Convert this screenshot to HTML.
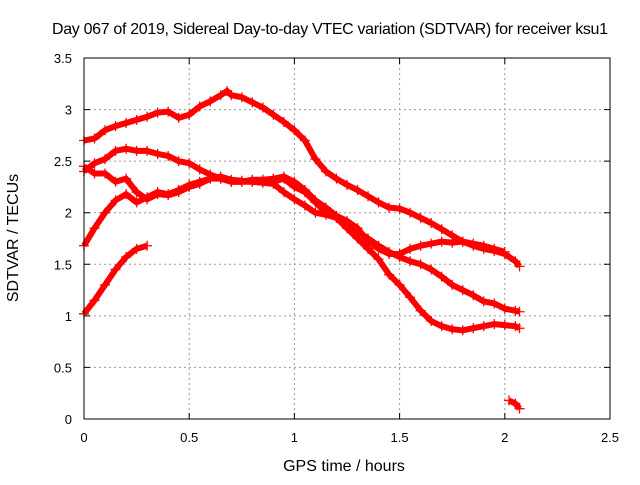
<!DOCTYPE html>
<html><head><meta charset="utf-8"><style>
body{margin:0;background:#fff}
svg text{font-family:"Liberation Sans",sans-serif;font-size:13px;fill:#000}
svg text.big{font-size:16px}
</style></head><body>
<svg id="c" width="640" height="480">
<text class="big" x="330" y="34" text-anchor="middle" textLength="556">Day 067 of 2019, Sidereal Day-to-day VTEC variation (SDTVAR) for receiver ksu1</text>
<text class="big" x="344" y="471" text-anchor="middle">GPS time / hours</text>
<text class="big" transform="translate(18,238) rotate(-90)" text-anchor="middle">SDTVAR / TECUs</text>
<g id="grid"></g><g id="marks"></g>
<rect x="84" y="58" width="526" height="361" fill="none" stroke="#000" stroke-width="1"/>
</svg>
<script>
const xTicks=[0,0.5,1,1.5,2,2.5];
const xTickLabels=["0","0.5","1","1.5","2","2.5"];
const yTicks=[0,0.5,1,1.5,2,2.5,3,3.5];
const yTickLabels=["0","0.5","1","1.5","2","2.5","3","3.5"];
const hoursA=[0,0.05,0.1,0.15,0.2,0.25,0.3,0.35,0.4,0.45,0.5,0.55,0.6,0.65,0.68,0.7,0.75,0.8,0.85,0.9,0.95,1.0,1.05,1.1,1.15,1.2,1.25,1.3,1.35,1.4,1.45,1.5,1.55,1.6,1.65,1.7,1.75,1.8,1.85,1.9,1.95,2.0,2.05,2.07];
const valsA=[2.7,2.72,2.8,2.84,2.87,2.9,2.93,2.97,2.98,2.92,2.95,3.03,3.08,3.14,3.18,3.14,3.12,3.07,3.02,2.95,2.88,2.8,2.7,2.52,2.4,2.33,2.27,2.22,2.16,2.1,2.05,2.04,2.0,1.95,1.9,1.84,1.78,1.72,1.68,1.65,1.63,1.6,1.53,1.48];
const hoursB=[0,0.05,0.1,0.15,0.2,0.25,0.3,0.35,0.4,0.45,0.5,0.55,0.6,0.65,0.7,0.75,0.8,0.85,0.9,0.95,1.0,1.05,1.1,1.15,1.2,1.25,1.3,1.35,1.4,1.45,1.5,1.55,1.6,1.65,1.7,1.75,1.8,1.85,1.9,1.95,2.0,2.05,2.07];
const valsB=[2.4,2.48,2.52,2.6,2.62,2.6,2.6,2.57,2.55,2.5,2.48,2.42,2.37,2.33,2.3,2.3,2.3,2.3,2.3,2.33,2.25,2.2,2.1,2.0,1.95,1.88,1.82,1.75,1.68,1.62,1.57,1.53,1.5,1.45,1.38,1.3,1.25,1.2,1.14,1.12,1.07,1.05,1.04];
const hoursC=[0,0.05,0.1,0.15,0.2,0.25,0.3,0.35,0.4,0.45,0.5,0.55,0.6,0.65,0.7,0.75,0.8,0.85,0.9,0.95,1.0,1.05,1.1,1.15,1.2,1.25,1.3,1.35,1.4,1.45,1.5,1.55,1.6,1.65,1.7,1.75,1.8,1.85,1.9,1.95,2.0,2.05,2.07];
const valsC=[2.45,2.38,2.38,2.3,2.33,2.2,2.13,2.18,2.17,2.2,2.25,2.28,2.33,2.35,2.32,2.31,2.3,2.29,2.28,2.2,2.13,2.07,2.0,1.98,1.95,1.85,1.75,1.65,1.55,1.4,1.3,1.18,1.05,0.95,0.9,0.87,0.86,0.88,0.9,0.92,0.91,0.9,0.88];
const hoursD=[0,0.05,0.1,0.15,0.2,0.25,0.3,0.35,0.4,0.45,0.5,0.55,0.6,0.65,0.7,0.75,0.8,0.85,0.9,0.95,1.0,1.05,1.1,1.15,1.2,1.25,1.3,1.35,1.4,1.45,1.5,1.55,1.6,1.65,1.7,1.75,1.8,1.85,1.9,1.95,2.0];
const valsD=[1.68,1.85,2.0,2.12,2.18,2.1,2.15,2.2,2.18,2.22,2.27,2.3,2.33,2.33,2.3,2.3,2.32,2.32,2.33,2.35,2.3,2.22,2.12,2.05,1.97,1.92,1.85,1.72,1.65,1.6,1.6,1.65,1.68,1.7,1.72,1.71,1.72,1.7,1.68,1.65,1.62];
const hoursE=[0,0.05,0.1,0.15,0.2,0.25,0.3];
const valsE=[1.02,1.15,1.3,1.45,1.57,1.65,1.68];
const hoursF=[2.02,2.05,2.07];
const valsF=[0.18,0.15,0.1];
const NS='http://www.w3.org/2000/svg';
const X=h=>84+h*210.4, Y=v=>419-v*103.14;
const grid=document.getElementById('grid'), marks=document.getElementById('marks'), svg=document.getElementById('c');
function mk(t,a,p){const e=document.createElementNS(NS,t);for(const k in a)e.setAttribute(k,a[k]);(p||svg).appendChild(e);return e;}
xTicks.forEach((t,i)=>{const x=X(t);
 if(i>0&&i<xTicks.length-1){const g=mk('line',{x1:x,y1:58,x2:x,y2:419,stroke:'#999','stroke-dasharray':'2,3'},grid);
 
 }
 const tk=mk('path',{d:`M${x},419v-6M${x},58v6`,stroke:'#000'},grid);
 
 
 const l=mk('text',{x:x,y:442,'text-anchor':'middle'},grid);l.textContent=xTickLabels[i];
 
 });
yTicks.forEach((t,i)=>{const y=Y(t);
 if(i>0&&i<yTicks.length-1){const g=mk('line',{x1:84,y1:y,x2:610,y2:y,stroke:'#999','stroke-dasharray':'2,3'},grid);
 
 }
 const tk=mk('path',{d:`M84,${y}h6M610,${y}h-6`,stroke:'#000'},grid);
 
 
 const l=mk('text',{x:72,y:y+5,'text-anchor':'end'},grid);l.textContent=yTickLabels[i];
 
 });
[[hoursA,valsA,'a'],[hoursB,valsB,'b'],[hoursC,valsC,'c'],[hoursD,valsD,'d'],[hoursE,valsE,'e'],[hoursF,valsF,'f']].forEach(([hs,vs,n])=>{
 const g=mk('g',{},marks);
 
 
 const pl=mk('polyline',{points:hs.map((h,i)=>X(h)+','+Y(vs[i])).join(' '),fill:'none',stroke:'#f00','stroke-width':6,'stroke-linejoin':'round'},g);
 
 
 hs.forEach((h,i)=>{const x=X(h),y=Y(vs[i]);
  const p=mk('path',{d:`M${x-5},${y}h10M${x},${y-5}v10`,stroke:'#f00','stroke-width':1.3},g);
  
  });
});
</script>
</body></html>
